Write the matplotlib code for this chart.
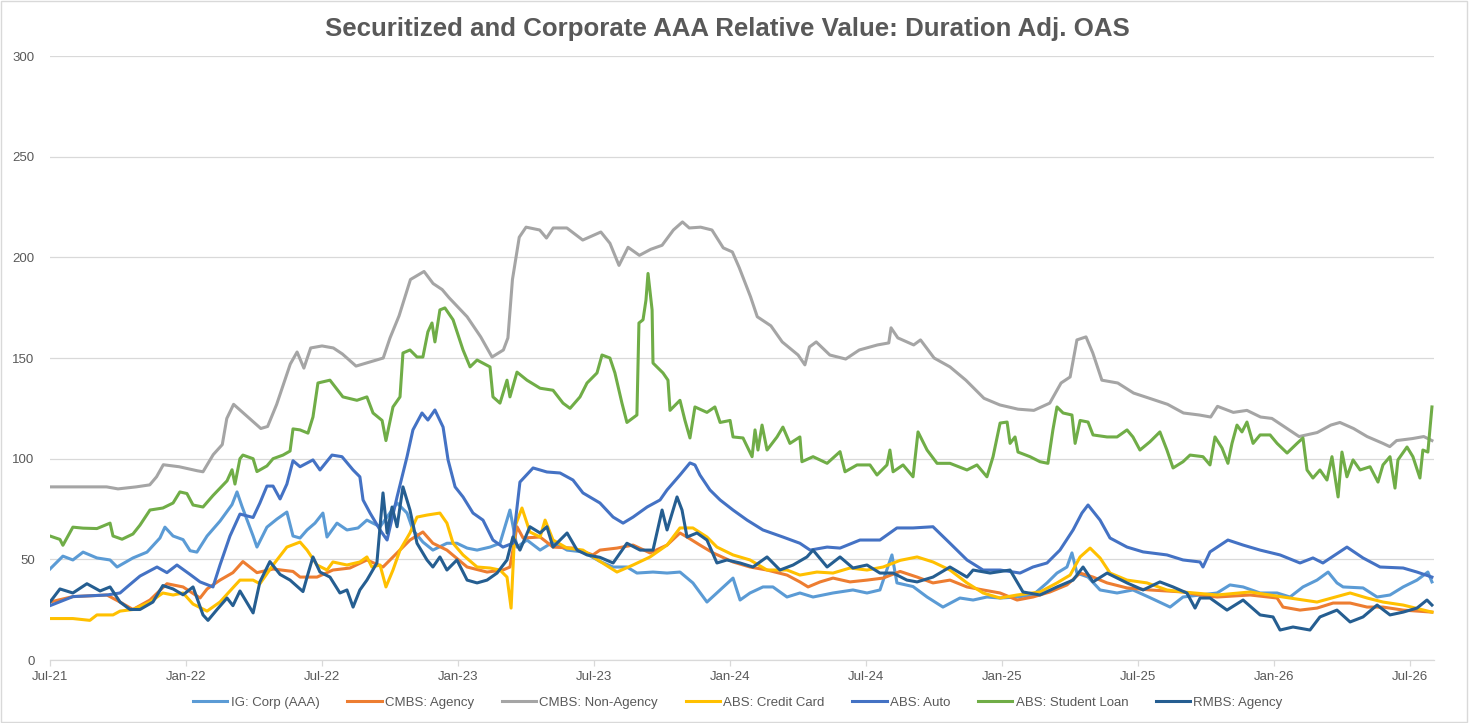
import numpy as np
import matplotlib.pyplot as plt
from matplotlib.patches import Rectangle

plt.rcParams['font.family'] = ['Liberation Sans', 'DejaVu Sans']

# x values are months since Jul-2021
ig_t = [0, 0.57, 1.01, 1.46, 2.07, 2.65, 2.96, 3.66, 4.28, 4.85, 5.07, 5.43, 5.87, 6.18, 6.48, 6.93,
        7.5, 8.03, 8.25, 8.47, 8.96, 9.13, 9.57, 10.01, 10.45, 10.72, 11.03, 11.34, 11.69, 12.04, 12.22,
        12.66, 13.1, 13.59, 13.98, 14.56, 15.31, 15.75, 16.01, 16.45, 16.89, 17.51, 17.95, 18.4, 18.84,
        19.41, 19.85, 20.29, 20.6, 21.04, 21.62, 22.19, 22.81, 23.51, 24.26, 24.84, 25.45, 25.89, 26.6,
        27.22, 27.79, 28.36, 28.98, 29.56, 30.13, 30.44, 30.88, 31.45, 31.89, 32.51, 33.08, 33.66, 34.54,
        35.42, 36.04, 36.61, 37.14, 37.36, 38.07, 38.69, 39.39, 40.14, 40.72, 41.33, 41.91, 42.66, 43.36,
        43.98, 44.42, 44.86, 45.08, 45.3, 45.79, 46.32, 47.07, 47.77, 48.52, 49.41, 49.98, 50.73, 51.48,
        52.05, 52.63, 53.38, 54.13, 54.7, 55.27, 55.89, 56.38, 56.77, 57.04, 57.92, 58.54, 59.11, 59.69,
        60.3, 60.78, 60.96]
ig_v = [45.2, 51.6, 49.7, 53.6, 50.7, 49.7, 46.2, 50.7, 53.6, 60.6, 66, 61.6, 59.8, 54.3, 53.6, 61.6,
        69, 77.2, 83.5, 76.3, 61.6, 56.1, 66, 70, 73.5, 61.6, 60.6, 64.6, 68, 73, 61.1,
        68, 64.6, 65.6, 69.5, 66.2, 78, 73, 64.6, 58.6, 54.6, 58, 58, 55.6, 54.6,
        56.1, 58, 74.5, 56.1, 59.6, 54.6, 58.6, 54.6, 53.7, 49, 46.2, 46.2, 43.2, 43.7,
        43.2, 43.7, 38.3, 28.8, 34.8, 40.7, 29.8, 33.3, 36.3, 36.3, 31.3, 33.3, 31.3, 33.3,
        34.8, 33.3, 34.8, 52.2, 38.3, 36.5, 31.3, 26.3, 30.8, 29.8, 31.3, 30.8, 31.3, 32.3,
        38.3, 43.2, 46.2, 53.2, 43.2, 41.2, 34.8, 33.3, 34.8, 31, 26.3, 31.3, 32.3, 33.3,
        37.3, 36.3, 33.3, 33.3, 31.3, 36.3, 39.7, 43.7, 38.3, 36.3, 35.8, 31.3, 32.3, 36.3,
        39.7, 43.7, 38.8]

cmbs_ag_t = [0, 1.01, 2.51, 3.09, 3.66, 4.41, 5.16, 5.87, 6.62, 6.93, 7.5, 8.07, 8.51, 9.13, 9.84,
             10.72, 11.03, 11.78, 12.48, 13.23, 13.98, 14.69, 15.31, 15.88, 16.45, 16.89, 17.51, 18.4,
             19.28, 19.98, 20.29, 20.6, 20.87, 21.62, 22.19, 23.07, 23.95, 24.26, 25.01, 25.72, 26.47,
             27.22, 27.79, 28.1, 28.67, 29.25, 30.13, 30.88, 31.63, 32.51, 33.08, 33.44, 33.97, 34.54,
             35.29, 36.04, 36.75, 37.5, 38.25, 38.95, 39.7, 40.45, 41.16, 41.91, 42.66, 43.36, 44.11,
             44.86, 45.44, 46.01, 46.63, 47.51, 48.52, 49.98, 50.73, 51.48, 52.94, 54.13, 54.39, 55.14,
             55.89, 56.6, 57.35, 58.1, 58.8, 59.69, 60.96]
cmbs_ag_v = [28.8, 31.5, 32.3, 28.8, 25.1, 29.8, 37.9, 36.3, 30.8, 35.3, 39.7, 43.4, 48.9, 43.4, 45.2,
             44, 41.2, 41.2, 44.7, 45.7, 49.7, 46.2, 53.2, 59.6, 63.6, 58, 54.6, 46.2,
             43.7, 44.7, 46.2, 66.2, 60.6, 61.1, 56.1, 55.6, 52.2, 54.6, 55.6, 57.1, 53.2,
             57.1, 63.1, 61.1, 57.1, 53.2, 48.7, 46.2, 44.7, 42.2, 38.8, 36.3, 38.8, 40.7,
             38.8, 39.7, 40.7, 44, 41.2, 38.3, 39.7, 36.3, 34.8, 33.3, 29.8, 31.3, 33.8,
             37.3, 43.2, 41.2, 38.3, 35.8, 34.8, 33.8, 32.3, 31.3, 32.3, 30.8, 26.3, 24.8,
             25.8, 28.3, 28.3, 26.3, 26.3, 24.8, 23.8]

cmbs_na_t = [0, 1.0, 2.5, 3.0, 3.8, 4.4, 4.7, 5.0, 5.7, 6.5, 6.75, 7.2, 7.6, 7.8, 8.1, 8.7, 9.3, 9.6,
             10.0, 10.3, 10.6, 10.9, 11.2, 11.5, 12.0, 12.5, 12.9, 13.5, 14.1, 14.7, 15.0, 15.4, 15.9,
             16.5, 16.9, 17.3, 17.6, 18.4, 19.0, 19.5, 20.0, 20.2, 20.4, 20.7, 21.0, 21.6, 21.9, 22.2,
             22.8, 23.5, 24.3, 24.7, 25.1, 25.5, 26.0, 26.5, 27.0, 27.5, 27.9, 28.2, 28.7, 29.2, 29.7,
             30.1, 30.4, 30.9, 31.2, 31.8, 32.3, 33.0, 33.3, 33.5, 33.8, 34.4, 35.1, 35.7, 36.5, 37.0,
             37.1, 37.4, 38.1, 38.4, 39.0, 39.7, 40.4, 41.2, 41.9, 42.7, 43.4, 44.1, 44.6, 45.0, 45.3,
             45.7, 46.0, 46.4, 47.1, 47.8, 48.5, 49.3, 50.0, 50.7, 51.2, 51.5, 52.2, 52.8, 53.4, 53.9,
             54.7, 55.1, 55.9, 56.5, 56.9, 57.5, 58.1, 58.8, 59.1, 59.4, 60.1, 60.6, 60.96]
cmbs_na_v = [86, 86, 86, 85, 86, 87, 91, 97, 96, 94, 93.5, 102, 107, 120, 127, 121, 115, 116,
             127, 137, 147, 153, 145, 155, 156, 155, 152, 146, 148, 150, 160, 171, 189,
             193, 187, 184, 180, 170.5, 160.5, 150.5, 154, 160, 189, 210, 215, 213.6, 209.6, 214.6,
             214.6, 208.6, 212.6, 207, 196, 205, 201, 204, 206, 213.6, 217.6, 214.6, 215, 213.6, 204.7,
             202.7, 195, 180.5, 170.5, 166, 158, 151.5, 146.6, 155.5, 158, 151.5, 149.5, 154, 156.5, 157.5,
             165, 160, 156.5, 159, 150, 145.6, 139, 130, 126.7, 124.6, 124, 127.6, 137.6, 140.6, 159,
             160.5, 152.5, 139, 137.6, 132.6, 130, 127, 122.7, 121.7, 120.7, 126, 123, 124, 120.7, 120,
             114, 111, 113, 116.7, 118, 115, 111, 107.6, 106, 109, 110, 111, 109]

cc_t = [0, 1.01, 1.76, 2.07, 2.78, 3.09, 3.66, 4.41, 4.98, 5.43, 5.87, 6.31, 6.93, 7.5, 7.94, 8.38,
        8.96, 9.26, 9.84, 10.45, 11.03, 11.34, 11.78, 12.22, 12.48, 13.1, 13.67, 13.98, 14.2, 14.56,
        14.82, 15.13, 15.44, 15.88, 16.19, 16.63, 17.2, 17.51, 17.78, 18.22, 18.84, 19.41, 19.85, 20.16,
        20.34, 20.51, 20.82, 21.17, 21.62, 21.84, 22.19, 22.81, 23.51, 24.26, 25.01, 25.72, 26.47,
        27.22, 27.79, 28.36, 28.98, 29.42, 30.13, 30.88, 31.63, 32.51, 33.08, 33.83, 34.54, 35.29,
        36.04, 36.75, 37.5, 38.25, 38.95, 39.7, 40.45, 41.16, 41.91, 42.66, 43.67, 44.42, 45.0, 45.44,
        45.88, 46.32, 46.76, 47.51, 48.39, 49.27, 49.98, 51.48, 52.94, 54.39, 55.89, 57.35, 58.1,
        58.8, 59.69, 60.96]
cc_v = [20.6, 20.6, 19.7, 22.4, 22.4, 24.3, 25.1, 28.8, 33.3, 32.3, 33.3, 27.8, 24.3, 28.8, 34.3, 39.7,
        39.7, 37.9, 47.2, 56.1, 58.6, 54.6, 47.2, 44.7, 48.7, 47.2, 48.7, 51.2, 46.2, 47.2,
        36.3, 44.7, 54.6, 63.1, 71, 72, 73, 68, 58, 52.2, 46.2, 45.7, 44.7, 41.2,
        25.8, 66.2, 75.5, 63.6, 61.1, 69.5, 59.6, 55.6, 54.6, 49, 43.7, 47.2, 51.2,
        57.1, 65.6, 65.6, 61.1, 56.1, 52.2, 49.7, 44.7, 44.7, 42.2, 43.7, 43.2, 45.7,
        44.7, 46.2, 49.5, 51.2, 48.7, 44.7, 38.3, 33.3, 30.8, 32.3, 33.8, 38.3, 42.2, 51.2,
        55.6, 50.7, 43.2, 39.7, 38.3, 34.8, 33.8, 32.3, 33.8, 31.3, 28.8, 33.3, 30.8,
        28.8, 27.3, 23.8]

auto_t = [0, 1.01, 2.51, 3.09, 3.4, 3.97, 4.72, 5.16, 5.6, 6.18, 6.62, 7.19, 7.5, 7.94, 8.38, 8.96,
          9.26, 9.57, 9.84, 10.15, 10.45, 10.72, 11.03, 11.6, 11.91, 12.44, 12.88, 13.37, 13.67, 13.81,
          14.12, 14.56, 14.87, 15.31, 15.75, 16.01, 16.41, 16.67, 16.98, 17.34, 17.56, 17.87, 18.22,
          18.66, 19.1, 19.54, 19.98, 20.42, 20.73, 21.31, 21.92, 22.5, 23.07, 23.51, 24.26, 24.84,
          25.28, 25.72, 26.34, 26.91, 27.22, 27.79, 28.23, 28.45, 28.67, 29.11, 29.56, 30.13, 30.75,
          31.45, 32.33, 33.08, 33.53, 34.28, 34.85, 35.73, 36.61, 37.36, 38.07, 38.95, 39.7, 40.45,
          41.16, 41.91, 42.79, 43.36, 43.98, 44.55, 45.13, 45.52, 45.79, 46.32, 46.76, 47.51, 48.22,
          49.27, 49.98, 50.73, 50.86, 51.17, 51.96, 52.63, 53.38, 54.26, 55.14, 55.71, 56.15, 57.21,
          57.92, 58.67, 59.69, 60.3, 60.96]
auto_v = [27, 31.5, 32.3, 33.3, 36.3, 41.7, 46.2, 43.4, 47.2, 42.5, 38.8, 36.3, 47.2, 61.6, 72.5, 70.8,
          78, 86.4, 86.4, 80, 87.4, 99, 96, 99.4, 94.4, 101.8, 101, 94.4, 91, 79.5,
          73, 64.6, 59.6, 81, 101, 114.3, 122.7, 119.2, 124.2, 115.7, 99.4, 86, 81,
          73, 69.5, 59.6, 56.1, 58, 88.4, 95.4, 93.4, 92.9, 89.4, 83, 78, 71,
          68, 71, 76, 79.5, 84.5, 91.9, 97.9, 96.9, 91.9, 84.5, 79.5, 74.5, 69.5,
          64.6, 61.1, 58, 54.6, 56.1, 55.6, 59.6, 59.6, 65.6, 65.6, 66.2, 58, 49.7,
          44.7, 44.7, 43.2, 46.2, 48.2, 54.6, 64.6, 73, 77, 69.5, 60.6, 56.1, 53.7,
          52.2, 49.7, 48.7, 46.2, 53.7, 59.6, 57.1, 54.6, 52.2, 48.2, 50.7, 48.2, 56.1,
          50.7, 46.2, 45.7, 43.7, 41.2]

sl_t = [0, 0.44, 0.57, 1.01, 1.46, 2.07, 2.65, 2.78, 3.18, 3.66, 3.97, 4.41, 4.98, 5.43, 5.73, 6.04,
        6.31, 6.75, 7.19, 7.81, 8.03, 8.16, 8.38, 8.51, 8.96, 9.13, 9.57, 9.84, 10.28, 10.59, 10.72,
        11.03, 11.38, 11.6, 11.82, 12.35, 12.92, 13.54, 13.98, 14.25, 14.65, 14.82, 15.13, 15.44,
        15.57, 15.88, 16.19, 16.45, 16.67, 16.85, 16.98, 17.2, 17.42, 17.78, 18.22, 18.53, 18.84,
        19.41, 19.54, 19.85, 20.16, 20.29, 20.6, 21.04, 21.62, 22.19, 22.63, 22.94, 23.38, 23.69,
        24.13, 24.35, 24.7, 24.92, 25.23, 25.45, 25.89, 25.98, 26.16, 26.29, 26.38, 26.56, 26.6,
        27.04, 27.26, 27.35, 27.79, 28.01, 28.23, 28.45, 28.98, 29.33, 29.56, 30.0, 30.13, 30.57,
        30.97, 31.1, 31.23, 31.41, 31.63, 32.07, 32.33, 32.64, 33.08, 33.17, 33.66, 34.28, 34.85,
        35.07, 35.6, 36.17, 36.48, 36.92, 37.05, 37.19, 37.63, 38.07, 38.29, 38.69, 39.13, 39.7,
        40.45, 40.89, 41.33, 41.6, 41.91, 42.22, 42.35, 42.57, 42.7, 43.23, 43.67, 44.02, 44.24,
        44.42, 44.69, 45.08, 45.22, 45.44, 45.79, 46.01, 46.63, 47.07, 47.51, 47.77, 48.08, 48.52,
        48.96, 49.27, 49.54, 49.98, 50.29, 50.86, 51.17, 51.39, 51.7, 51.96, 52.14, 52.36, 52.58,
        52.8, 53.07, 53.38, 53.82, 54.13, 54.57, 55.01, 55.27, 55.45, 55.71, 56.02, 56.33, 56.55,
        56.82, 56.99, 57.21, 57.48, 57.79, 58.23, 58.58, 58.8, 59.11, 59.33, 59.46, 59.86, 60.12,
        60.43, 60.56, 60.78, 60.96]
sl_v = [61.6, 59.9, 57, 66, 65.5, 65.3, 68, 61.6, 60, 62.6, 67, 74.5, 75.5, 78, 83.5, 82.7,
        77, 76, 81.7, 89, 94.5, 87.4, 100, 101.8, 100, 93.6, 96.4, 100, 101.8, 103.8, 114.8,
        114.3, 112.7, 120.7, 137.6, 139, 130.7, 129, 130.7, 122.7, 119, 109, 125.7, 130.7,
        152.5, 154, 150.5, 150.5, 163, 167.4, 158, 173.9, 174.9, 169, 154, 145.6, 149,
        145.6, 130.7, 127.6, 139, 130.7, 143, 139, 135, 134, 127.6, 125, 130.7, 137.6,
        142.6, 151.5, 150, 142.6, 127.6, 118, 121.7, 167.4, 169, 178.8, 192, 173.9, 147.5,
        142.6, 139, 124, 129, 119, 110.3, 125.7, 123, 125.7, 118, 119, 110.8, 110.3,
        101, 114.3, 104.3, 116.7, 104.3, 110.8, 115.7, 107.6, 110.8, 98.5, 101, 97.7, 103.5,
        93.5, 96.9, 96.9, 91.9, 96.9, 104.3, 93.5, 96.9, 91, 113.3, 104.3, 97.7, 97.7,
        94.4, 96.9, 91, 101, 117.7, 118.2, 107.6, 110.8, 103.3, 101, 98.5, 97.7, 114.3,
        125.7, 122.7, 121.7, 107.6, 119, 118.2, 111.8, 110.8, 110.8, 114.3, 110.8, 104.3, 108.4,
        113.3, 104.3, 95.4, 98.5, 101.8, 101, 96.9, 110.8, 105.3, 97.7, 107.6, 116.7, 113.3,
        118.2, 107.6, 111.8, 111.8, 107.6, 102.8, 107.6, 110.3, 94.4, 90.4, 94.4, 89.4, 101,
        81, 103.3, 91, 99.4, 94.4, 96, 88.4, 96.9, 101, 85.4, 99.4, 105.8, 101,
        90.4, 104.3, 103.3, 125.7]

rmbs_t = [0, 0.44, 1.01, 1.63, 2.21, 2.65, 3.09, 3.53, 3.97, 4.54, 4.98, 5.43, 5.87, 6.31, 6.75, 6.97,
          7.37, 7.81, 8.07, 8.38, 8.96, 9.26, 9.7, 10.15, 10.59, 11.16, 11.34, 11.6, 11.91, 12.35,
          12.79, 13.1, 13.37, 13.67, 13.98, 14.42, 14.69, 14.87, 15.09, 15.31, 15.57, 15.88, 16.19,
          16.63, 16.89, 17.2, 17.51, 17.95, 18.4, 18.84, 19.28, 19.72, 20.16, 20.42, 20.73, 21.17,
          21.62, 21.92, 22.19, 22.81, 23.25, 23.69, 24.26, 24.84, 25.45, 26.03, 26.6, 27.0, 27.22,
          27.66, 27.88, 28.1, 28.54, 28.98, 29.42, 29.86, 30.44, 31.01, 31.63, 32.2, 32.78, 33.39,
          33.66, 34.28, 34.85, 35.42, 36.04, 36.61, 37.19, 37.8, 38.25, 38.95, 39.7, 40.45, 40.72,
          41.47, 42.35, 42.92, 43.67, 44.42, 45.13, 45.57, 46.01, 46.63, 47.51, 48.22, 48.96, 49.54,
          50.15, 50.51, 50.73, 51.17, 51.92, 52.63, 53.38, 53.95, 54.26, 54.83, 55.58, 56.02, 56.77,
          57.35, 57.92, 58.54, 59.11, 59.69, 60.3, 60.74, 60.96]
rmbs_v = [28.8, 35.3, 33.3, 37.9, 34.3, 36.3, 28.8, 25.1, 25.1, 28.8, 37, 35.3, 32.4, 36.3, 22.4, 19.7,
          25.1, 30.8, 27, 34.3, 23.4, 38.8, 48.9, 42.5, 39.7, 34, 41.2, 51.2, 43.7, 41.2,
          33.3, 34.8, 26.3, 34.8, 39.7, 48.2, 83, 63.1, 76, 66.2, 86, 74.5, 58,
          49.7, 46.2, 51.2, 44.7, 49.7, 39.7, 38.3, 39.7, 43.2, 49.7, 61.1, 54.6, 66.2,
          63.1, 66.2, 56.1, 63.1, 54.6, 52.2, 51, 48.2, 58, 54.6, 54.6, 74.5, 64.6,
          81, 74.5, 61.1, 63.1, 59.6, 48.2, 49.7, 48.2, 46.2, 51.2, 44.7, 47.2, 51.2,
          54.6, 46.2, 51.2, 45.7, 47.2, 43.2, 43.2, 39.7, 38.8, 41.2, 46.2, 41.2, 44.7,
          43.2, 44.7, 33.8, 32.3, 36.3, 39.7, 46.2, 38.8, 43.2, 38.3, 34.8, 38.8, 36.3,
          33.3, 25.8, 30.8, 30.8, 24.8, 29.8, 22.4, 21.4, 14.9, 16.4, 14.9, 21.4, 24.8,
          18.9, 21.4, 27.3, 22.4, 23.8, 25.8, 29.8, 27.3]

labels = ['IG: Corp (AAA)', 'CMBS: Agency', 'CMBS: Non-Agency', 'ABS: Credit Card',
          'ABS: Auto', 'ABS: Student Loan', 'RMBS: Agency']
colors = ['#5B9BD5', '#ED7D31', '#A5A5A5', '#FFC000', '#4472C4', '#70AD47', '#255E91']

tick_pos = [0, 6, 12, 18, 24, 30, 36, 42, 48, 54, 60]
tick_lab = ['Jul-21', 'Jan-22', 'Jul-22', 'Jan-23', 'Jul-23', 'Jan-24', 'Jul-24',
            'Jan-25', 'Jul-25', 'Jan-26', 'Jul-26']

series = [(ig_t, ig_v), (cmbs_ag_t, cmbs_ag_v), (cmbs_na_t, cmbs_na_v), (cc_t, cc_v),
          (auto_t, auto_v), (sl_t, sl_v), (rmbs_t, rmbs_v)]

fig = plt.figure(figsize=(14.7, 7.23), dpi=100)
ax = fig.add_axes([0.034, 0.0871, 0.9415, 0.8354])

for (t, v), lab, c in zip(series, labels, colors):
    ax.plot(t, v, color=c, lw=2.2, label=lab, solid_joinstyle='round')

ax.set_xlim(0, 61.05)
ax.set_ylim(0, 300)
ax.set_yticks(np.arange(0, 301, 50))
ax.set_xticks(tick_pos)
ax.set_xticklabels(tick_lab)
ax.grid(axis='y', color='#D9D9D9', lw=0.9)
ax.set_axisbelow(True)
for s in ['left', 'right', 'top']:
    ax.spines[s].set_visible(False)
ax.spines['bottom'].set_color('#D9D9D9')
ax.spines['bottom'].set_linewidth(0.9)
ax.tick_params(axis='y', length=0, pad=11, labelsize=9.5, labelcolor='#595959')
ax.tick_params(axis='x', length=4, width=0.9, color='#D9D9D9', pad=4, labelsize=9.5,
               labelcolor='#595959')

fig.text(0.4946, 0.960, 'Securitized and Corporate AAA Relative Value: Duration Adj. OAS',
         ha='center', va='center', fontsize=18.6, fontweight='bold', color='#595959')

fig.legend(loc='center', bbox_to_anchor=(0.502, 0.0277), ncol=7, frameon=False,
           fontsize=9.5, labelcolor='#595959', handlelength=2.6, handletextpad=0.25,
           columnspacing=2.1)

fig.patches.append(Rectangle((0.001, 0.001), 0.997, 0.997, transform=fig.transFigure,
                             fill=False, edgecolor='#D9D9D9', lw=1))

fig.savefig('out.png', dpi=100)
